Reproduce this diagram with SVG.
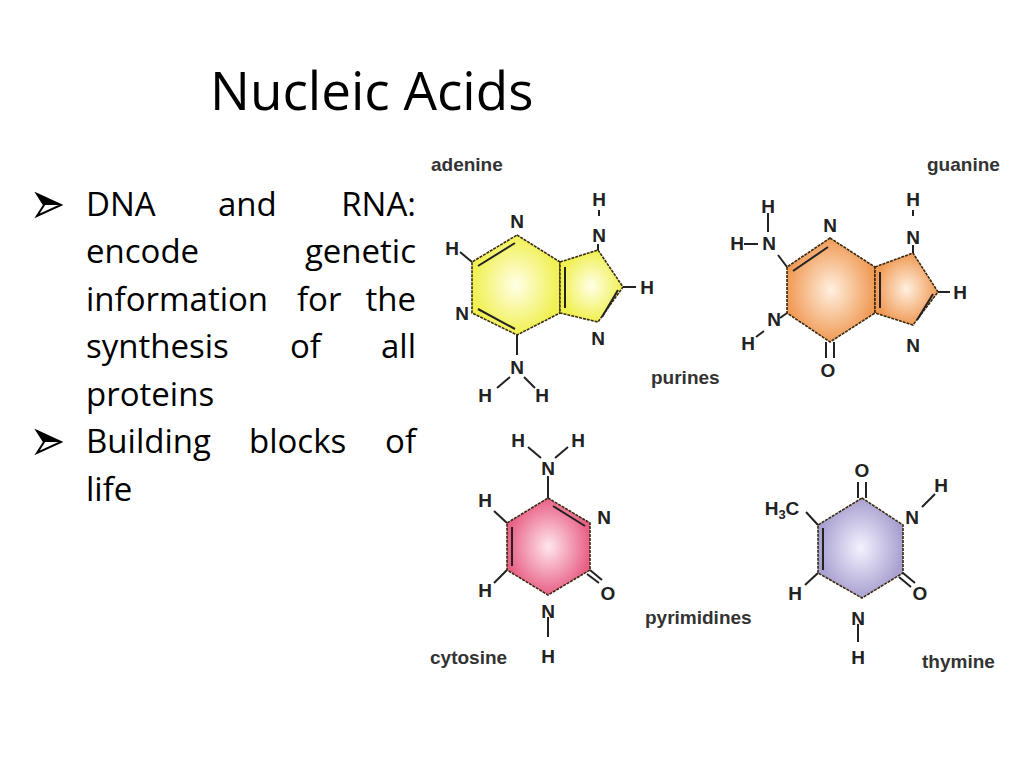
<svg xmlns="http://www.w3.org/2000/svg" width="1024" height="768" viewBox="0 0 1024 768">
<style>
.t{font-family:"Open Sans","Liberation Sans",sans-serif;font-size:33px;fill:#000}
.a{font-family:"Liberation Sans",Arial,sans-serif;font-weight:bold;font-size:19px;fill:#222;text-anchor:middle}
.l{font-family:"Liberation Sans",Arial,sans-serif;font-weight:bold;font-size:19px;fill:#333}
.r{stroke:#3a2a10;stroke-width:1.6;stroke-dasharray:3 1;}
.b{stroke:#222;stroke-width:2;fill:none}
</style>
<defs>
<radialGradient id="gy"><stop offset="0" stop-color="#ffffe8"/><stop offset="1" stop-color="#f0f050"/></radialGradient>
<radialGradient id="go"><stop offset="0" stop-color="#fff0e0"/><stop offset="1" stop-color="#f09a55"/></radialGradient>
<radialGradient id="gp"><stop offset="0" stop-color="#ffe6ee"/><stop offset="1" stop-color="#e86085"/></radialGradient>
<radialGradient id="gv"><stop offset="0" stop-color="#f4f2ff"/><stop offset="1" stop-color="#a8a0d0"/></radialGradient>
<g id="arr"><path d="M0,-11 L24,0 L0,11 L7,0 Z" fill="#fff" stroke="#000" stroke-width="2"/><path d="M0,-11 L24,0 L7,0 Z" fill="#000"/></g>
</defs>
<rect width="1024" height="768" fill="#fff"/>
<text x="210" y="110" font-family="'Open Sans','Liberation Sans',sans-serif" font-size="53">Nucleic Acids</text>
<g id="bullets">
<use href="#arr" x="37" y="205"/>
<use href="#arr" x="37" y="442"/>
<text class="t" x="86" y="216">DNA</text><text class="t" x="218" y="216">and</text><text class="t" x="416" y="216" text-anchor="end">RNA:</text>
<text class="t" x="86" y="263">encode</text><text class="t" x="416" y="263" text-anchor="end">genetic</text>
<text class="t" x="86" y="311">information</text><text class="t" x="297" y="311">for</text><text class="t" x="416" y="311" text-anchor="end">the</text>
<text class="t" x="86" y="358">synthesis</text><text class="t" x="290" y="358">of</text><text class="t" x="416" y="358" text-anchor="end">all</text>
<text class="t" x="86" y="406">proteins</text>
<text class="t" x="86" y="453">Building</text><text class="t" x="249" y="453">blocks</text><text class="t" x="416" y="453" text-anchor="end">of</text>
<text class="t" x="86" y="501">life</text>
</g>
<g id="adenine">
<polygon class="r" fill="url(#gy)" points="517,235 560,262 560,313 517,335 472,313 472,262"/>
<polygon class="r" fill="url(#gy)" points="560,262 598,250 623,287 598,322 560,313"/>
<g class="b"><path d="M478,266 L515,243 M478,309 L515,329 M565,267 L565,308 M602,317 L618,290 M472,262 L460,252 M517,335 L517,355 M510,377 L497,388 M524,377 L535,388 M598,250 L598,244 M599,210 L599,216 M623,287 L636,287"/></g>
<text class="a" x="517" y="228">N</text><text class="a" x="599" y="206">H</text><text class="a" x="599" y="242">N</text>
<text class="a" x="647" y="294">H</text><text class="a" x="598" y="345">N</text><text class="a" x="462" y="320">N</text><text class="a" x="452" y="255">H</text>
<text class="a" x="517" y="374">N</text><text class="a" x="485" y="402">H</text><text class="a" x="542" y="402">H</text>
<text class="l" x="431" y="171">adenine</text>
</g>
<g id="guanine">
<polygon class="r" fill="url(#go)" points="830,238 875,267 875,313 830,342 787,313 787,267"/>
<polygon class="r" fill="url(#go)" points="875,267 913,253 938,292 913,325 875,313"/>
<g class="b"><path d="M793,271 L828,247 M880,272 L880,308 M917,320 L933,294 M938,292 L950,292 M913,253 L913,245 M913,210 L913,216 M787,267 L778,255 M768,213 L768,232 M744,244 L758,244 M787,313 L780,318 M756,337 L764,331 M826,342 L826,358 M834,342 L834,358"/></g>
<text class="a" x="830" y="232">N</text><text class="a" x="913" y="206">H</text><text class="a" x="913" y="244">N</text>
<text class="a" x="960" y="299">H</text><text class="a" x="913" y="352">N</text><text class="a" x="828" y="377">O</text>
<text class="a" x="768" y="213">H</text><text class="a" x="737" y="250">H</text><text class="a" x="769" y="250">N</text>
<text class="a" x="774" y="326">N</text><text class="a" x="748" y="350">H</text>
<text class="l" x="927" y="171">guanine</text>
<text class="l" x="651" y="384">purines</text>
</g>
<g id="cytosine">
<polygon class="r" fill="url(#gp)" points="548,498 590,523 590,570 548,595 507,570 507,523"/>
<g class="b"><path d="M553,506 L585,526 M512,527 L512,566 M590,570 L602,580 M587,574 L599,583 M548,498 L548,476 M541,458 L528,447 M555,458 L568,447 M507,523 L494,511 M507,570 L494,583 M548,617 L548,637"/></g>
<text class="a" x="548" y="475">N</text><text class="a" x="518" y="447">H</text><text class="a" x="578" y="447">H</text>
<text class="a" x="604" y="524">N</text><text class="a" x="608" y="600">O</text><text class="a" x="548" y="618">N</text><text class="a" x="548" y="663">H</text>
<text class="a" x="485" y="507">H</text><text class="a" x="485" y="597">H</text>
<text class="l" x="430" y="664">cytosine</text>
<text class="l" x="645" y="624">pyrimidines</text>
</g>
<g id="thymine">
<polygon class="r" fill="url(#gv)" points="862,498 903,525 903,573 862,598 818,573 818,525"/>
<g class="b"><path d="M823,528 L823,570 M858,498 L858,482 M866,498 L866,482 M903,573 L915,583 M899,577 L911,587 M922,507 L935,494 M818,525 L806,512 M818,573 L805,585 M858,624 L858,642"/></g>
<text class="a" x="862" y="477">O</text><text class="a" x="912" y="524">N</text><text class="a" x="941" y="492">H</text>
<text class="a" x="920" y="600">O</text><text class="a" x="858" y="625">N</text><text class="a" x="858" y="664">H</text>
<text class="a" x="795" y="600">H</text>
<text class="a" x="782" y="515">H<tspan font-size="13" dy="4">3</tspan><tspan dy="-4">C</tspan></text>
<text class="l" x="922" y="668">thymine</text>
</g>
</svg>
